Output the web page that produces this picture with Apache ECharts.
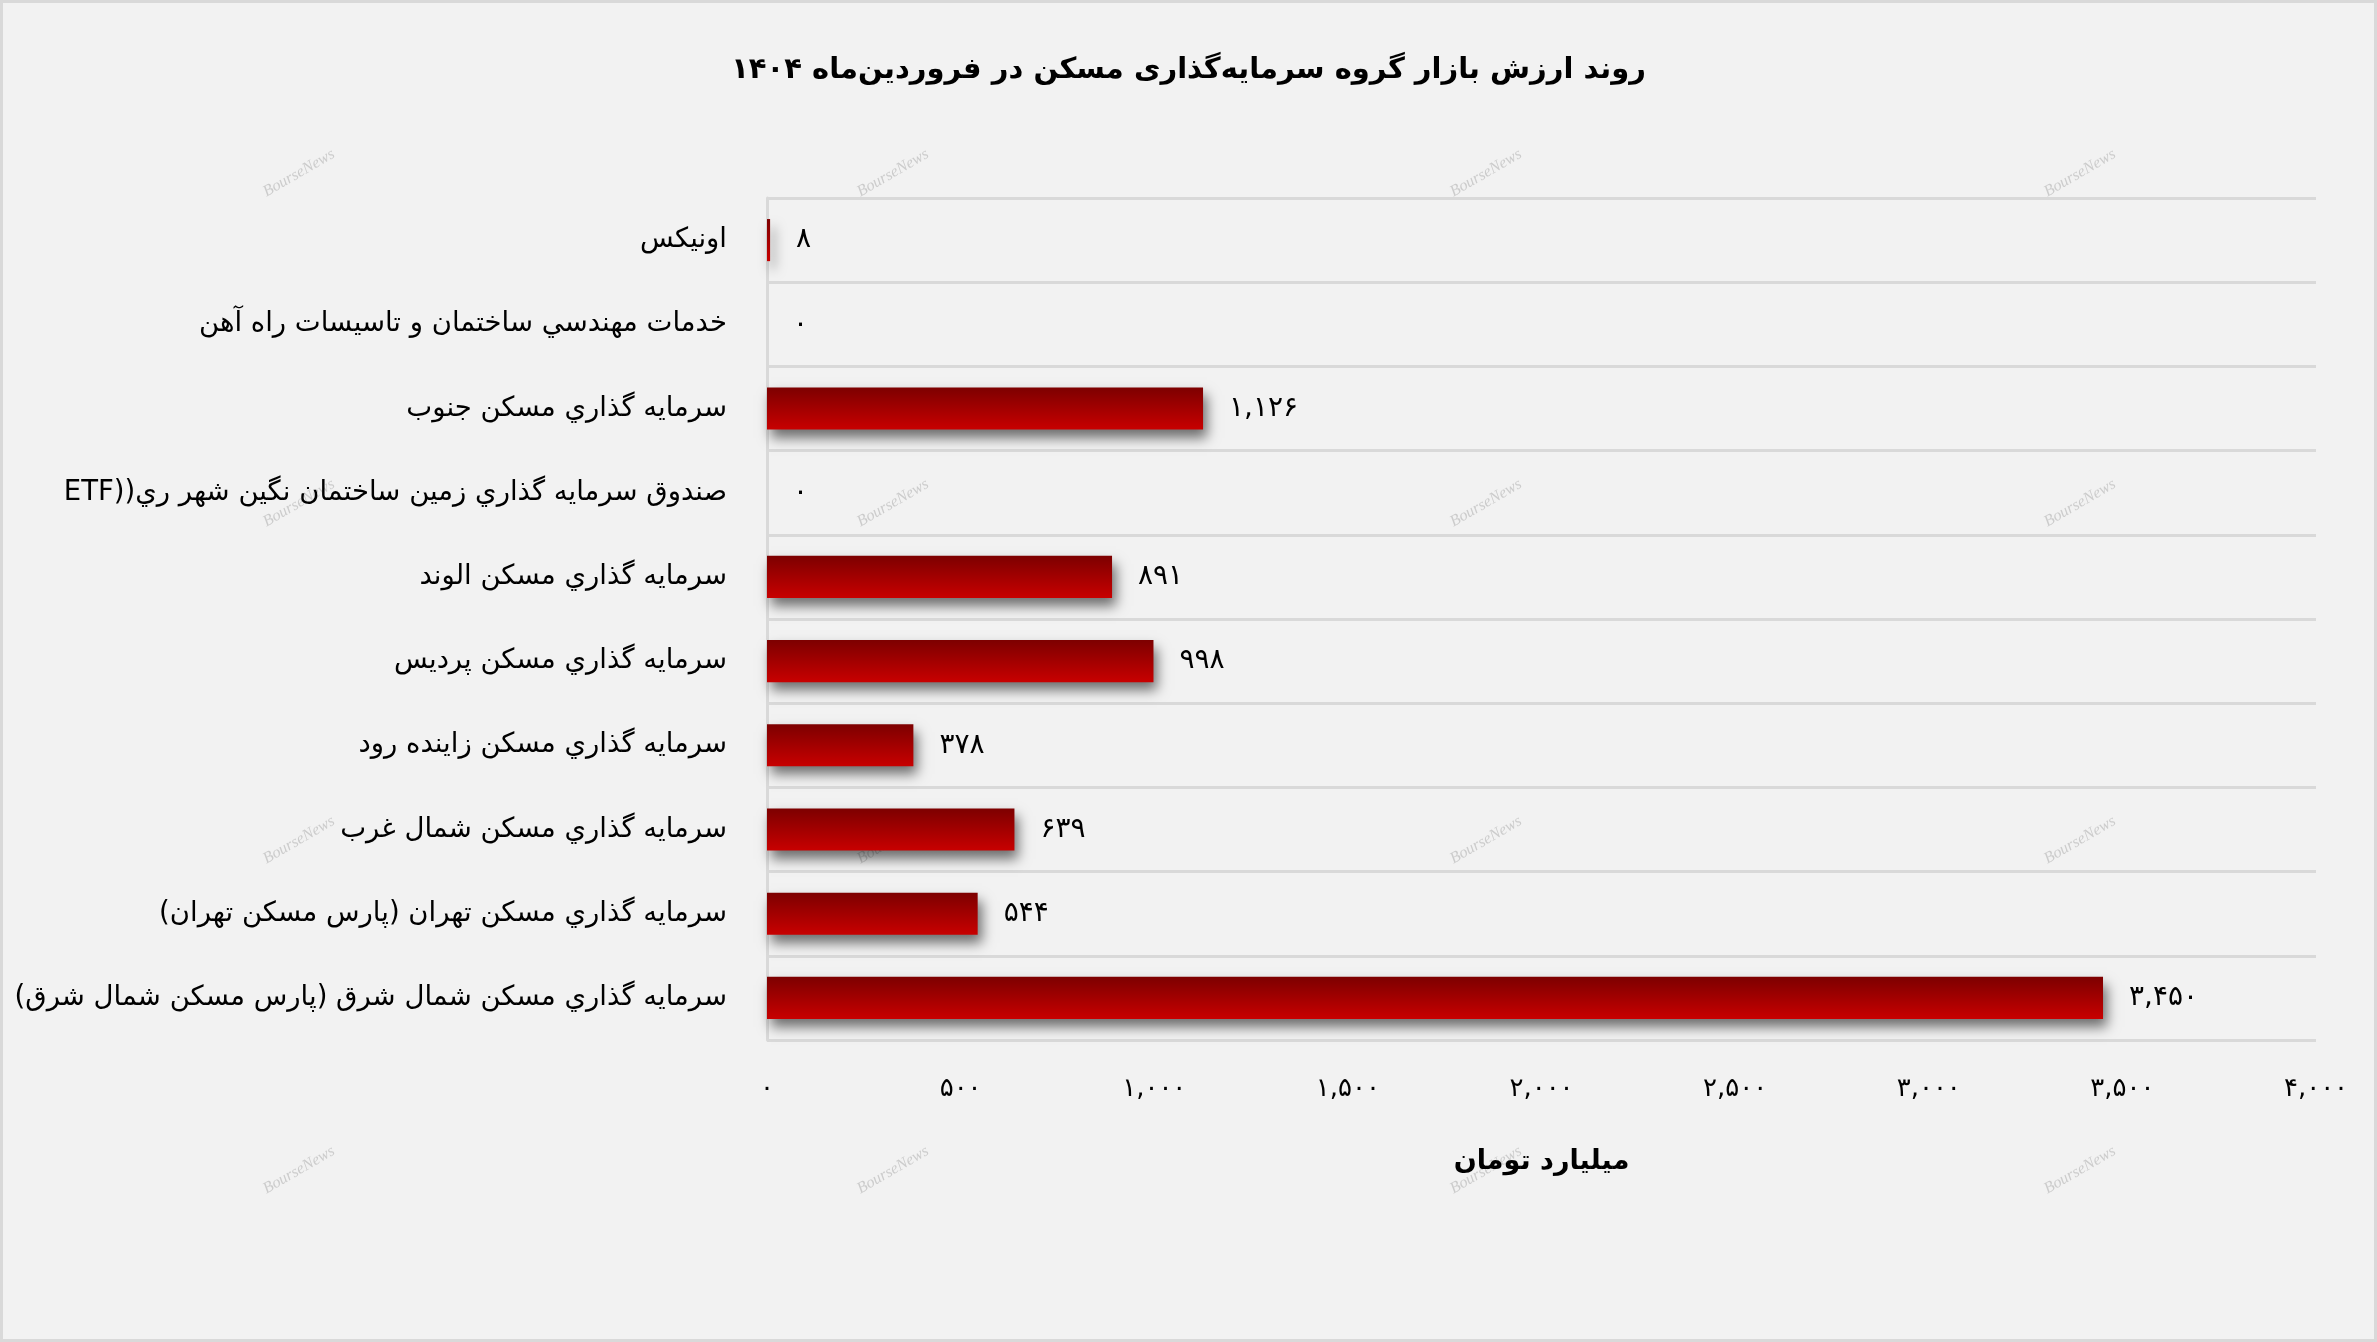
<!DOCTYPE html>
<html>
<head>
<meta charset="utf-8">
<script src="https://cdn.jsdelivr.net/npm/echarts@6/dist/echarts.min.js"></script>
<style>
  html, body { margin: 0; padding: 0; background: #f2f2f2; }
  #wrap { width: 2377px; height: 1342px; box-sizing: border-box; border: 3px solid #d9d9d9; background: #f2f2f2; }
  #chart { width: 100%; height: 100%; direction: rtl; }
</style>
</head>
<body>
<div id="wrap"><div id="chart" dir="rtl"></div></div>
<script>
const titleText = 'روند ارزش بازار گروه سرمایه‌گذاری مسکن در فروردین‌ماه ۱۴۰۴';
const axisName = 'میلیارد تومان';
const categories = [
  'اونیکس',
  'خدمات مهندسي ساختمان و تاسیسات راه آهن',
  'سرمایه گذاري مسکن جنوب',
  'صندوق سرمایه گذاري زمین ساختمان نگین شهر ري((ETF',
  'سرمایه گذاري مسکن الوند',
  'سرمایه گذاري مسکن پردیس',
  'سرمایه گذاري مسکن زاینده رود',
  'سرمایه گذاري مسکن شمال غرب',
  'سرمایه گذاري مسکن تهران (پارس مسکن تهران)',
  'سرمایه گذاري مسکن شمال شرق (پارس مسکن شمال شرق)'
];
const values = [8, 0, 1126, 0, 891, 998, 378, 639, 544, 3450];
const axisMin = 0, axisMax = 4000, axisStep = 500;

const FA = '۰۱۲۳۴۵۶۷۸۹';
const fa = n => Number(n).toLocaleString('en-US').replace(/\d/g, d => FA[d]);
const FONT = 'DejaVu Sans';

const chart = echarts.init(document.getElementById('chart'));

const wmX = [296, 890, 1483, 2077];
const wmY = [170, 500, 837, 1167];
const watermarks = [];
wmY.forEach(y => wmX.forEach(x => watermarks.push({
  type: 'text', x: x, y: y, rotation: Math.PI / 6, silent: true, z: -1,
  style: { text: 'BourseNews', fill: '#cccccc', font: 'italic 16px "Liberation Serif"', textAlign: 'center', textVerticalAlign: 'middle' }
})));

chart.setOption({
  backgroundColor: '#f2f2f2',
  animation: false,
  graphic: watermarks,
  title: {
    text: titleText, left: 'center', top: 48,
    textStyle: { fontFamily: FONT, fontSize: 29, fontWeight: 'bold', color: '#000' }
  },
  grid: { left: 764, right: 58, top: 195, bottom: 299, containLabel: false, outerBoundsMode: 'none' },
  xAxis: {
    type: 'value', min: axisMin, max: axisMax, interval: axisStep,
    axisLine: { show: false }, axisTick: { show: false }, splitLine: { show: false },
    axisLabel: { formatter: v => fa(v), fontFamily: FONT, fontSize: 26, color: '#000', margin: 36 },
    name: axisName, nameLocation: 'middle', nameGap: 108,
    nameTextStyle: { fontFamily: FONT, fontSize: 27, fontWeight: 'bold', color: '#000' }
  },
  yAxis: {
    type: 'category', inverse: true, data: categories,
    axisTick: { show: false },
    axisLine: { show: true, lineStyle: { color: '#d9d9d9', width: 3 } },
    splitLine: { show: true, lineStyle: { color: '#d9d9d9', width: 3 } },
    axisLabel: { fontFamily: FONT, fontSize: 27.5, color: '#000', margin: 40, padding: [0, 0, 14, 0] }
  },
  series: [{
    type: 'bar', data: values, barWidth: '50%',
    itemStyle: {
      color: new echarts.graphic.LinearGradient(0, 0, 0, 1, [
        { offset: 0, color: '#7d0000' },
        { offset: 1, color: '#c80000' }
      ]),
      shadowColor: 'rgba(0,0,0,0.55)', shadowBlur: 12, shadowOffsetX: 4, shadowOffsetY: 8
    },
    label: {
      show: true, position: 'right', distance: 26,
      formatter: p => fa(p.value),
      fontFamily: FONT, fontSize: 28, color: '#000'
    }
  }]
});
</script>
</body>
</html>
